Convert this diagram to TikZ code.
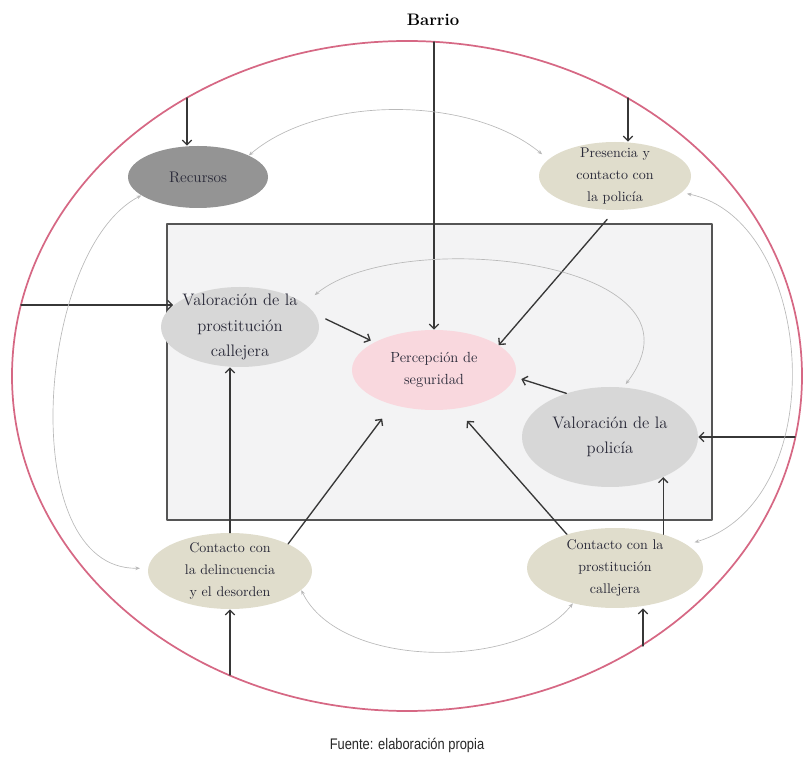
\documentclass[tikz,border=0pt]{standalone}
\usepackage{fontspec}
\usetikzlibrary{shapes.geometric,arrows.meta}
\newfontfamily\fuentefont[FakeStretch=0.84]{Liberation Sans}
\definecolor{barriocol}{RGB}{214,104,132}
\definecolor{recursoscol}{RGB}{148,148,148}
\definecolor{beigecol}{RGB}{224,221,204}
\definecolor{grisclaro}{RGB}{215,215,215}
\definecolor{rosacol}{RGB}{249,216,222}
\definecolor{cajacol}{RGB}{243,243,244}
\definecolor{flechacol}{RGB}{55,55,55}
\definecolor{enlacecol}{RGB}{185,185,185}
\definecolor{textocol}{RGB}{40,40,55}

\begin{document}
\begin{tikzpicture}[x=0.75pt, y=-0.75pt, >={Straight Barb[length=3.5pt,width=7pt]}, line join=round, line cap=round,
		burbuja/.style={ellipse, fill=#1, inner sep=-6pt, align=center, text=textocol},
		chico/.style={font=\fontsize{10.5}{16.5}\selectfont},
		grande/.style={font=\fontsize{12.5}{19}\selectfont},
		flecha/.style={->, draw=flechacol, line width=1pt},
		enlace/.style={{Stealth[length=3.5pt,width=2.8pt]}-{Stealth[length=3.5pt,width=2.8pt]}, draw=enlacecol, line width=0.5pt}]
			\useasboundingbox (0,0) rectangle (804,762);
			\path
			(434,42) coordinate (bt)
			(187,98) coordinate (bRec)
			(628,98) coordinate (bPres)
			(21,305) coordinate (bVP)
			(795,437) coordinate (bVPol)
			(230,675) coordinate (bCD)
			(643,646) coordinate (bCP)
			;
			% barrio y recuadro
			\draw[barriocol, line width=1.3pt] (407,376) ellipse (296.25pt and 251.25pt);
			\draw[fill=cajacol, draw=flechacol!85, line width=1.2pt] (167,224) rectangle (712,520);
			\node[font=\fontsize{12.5}{15}\selectfont\bfseries] (barrio) at (433,20) {Barrio};
			% nodos
			\node[burbuja=recursoscol, font=\fontsize{11.5}{14}\selectfont, minimum width=105pt, minimum height=46.5pt] (rec) at (198,177) {Recursos};
			\node[burbuja=beigecol, chico, minimum width=114pt, minimum height=51pt] (pres) at (615,176) {Presencia y\\contacto con\\la policía};
			\node[burbuja=grisclaro, grande, minimum width=118.5pt, minimum height=60pt] (valprost) at (240,327) {Valoración de la\\prostitución\\callejera};
			\node[burbuja=rosacol, font=\fontsize{11}{17}\selectfont, minimum width=123pt, minimum height=60pt] (perc) at (434,370) {Percepción de\\seguridad};
			\node[burbuja=grisclaro, grande, minimum width=132pt, minimum height=75pt] (valpol) at (610,437) {Valoración de la\\policía};
			\node[burbuja=beigecol, chico, minimum width=123pt, minimum height=57pt] (cdel) at (230,571) {Contacto con\\la delincuencia\\y el desorden};
			\node[burbuja=beigecol, chico, minimum width=132pt, minimum height=60pt] (cprost) at (615,568) {Contacto con la\\prostitución\\callejera};
			\node[font=\fuentefont\fontsize{11.5}{13}\selectfont, text=black!85] (fuente) at (407,745) {Fuente: elaboración propia};
			% flechas del barrio
			\draw[flecha] (bt) -- (perc.north);
			\draw[flecha] (bRec) -- (bRec |- rec.north);
			\draw[flecha] (bPres) -- (bPres |- pres.north);
			\draw[flecha] (bVP) -- (bVP -| valprost.162);
			\draw[flecha] (bVPol) -- (valpol.east);
			\draw[flecha] (bCD) -- (cdel.south);
			\draw[flecha] (bCP) -- (bCP |- cprost.south);
			% flechas internas
			\draw[flecha, shorten <=9pt] (pres.south) -- (perc.21);
			\draw[flecha, shorten <=9pt, shorten >=3pt] (valprost.10) -- (perc.155);
			\draw[flecha, shorten >=5pt] (valpol.135) -- (perc.-5);
			\draw[flecha] (cdel.north) -- (cdel.north |- valprost.south);
			\draw[flecha, shorten >=13pt] (cdel.25) -- (perc.220);
			\draw[flecha, shorten >=12pt] (cprost.145) -- (perc.-60);
			\draw[flecha] (cprost.35) -- (cprost.35 |- valpol.-37);
			% relaciones mutuas
			\draw[enlace, shorten >=6pt] (rec.23) .. controls (320,95) and (470,95) .. (pres.166);
			\draw[enlace, shorten <=10pt, shorten >=3pt] (valprost.20) .. controls (400,225) and (720,260) .. (valpol.75);
			\draw[enlace, shorten >=6pt] (rec.198) .. controls (36,250) and (14,570) .. (cdel.178);
			\draw[enlace, shorten <=4pt, shorten >=6pt] (pres.-14) .. controls (815,220) and (835,500) .. (cprost.18);
			\draw[enlace] (cdel.-15) .. controls (340,670) and (520,670) .. (cprost.220);
		\end{tikzpicture}
\end{document}
